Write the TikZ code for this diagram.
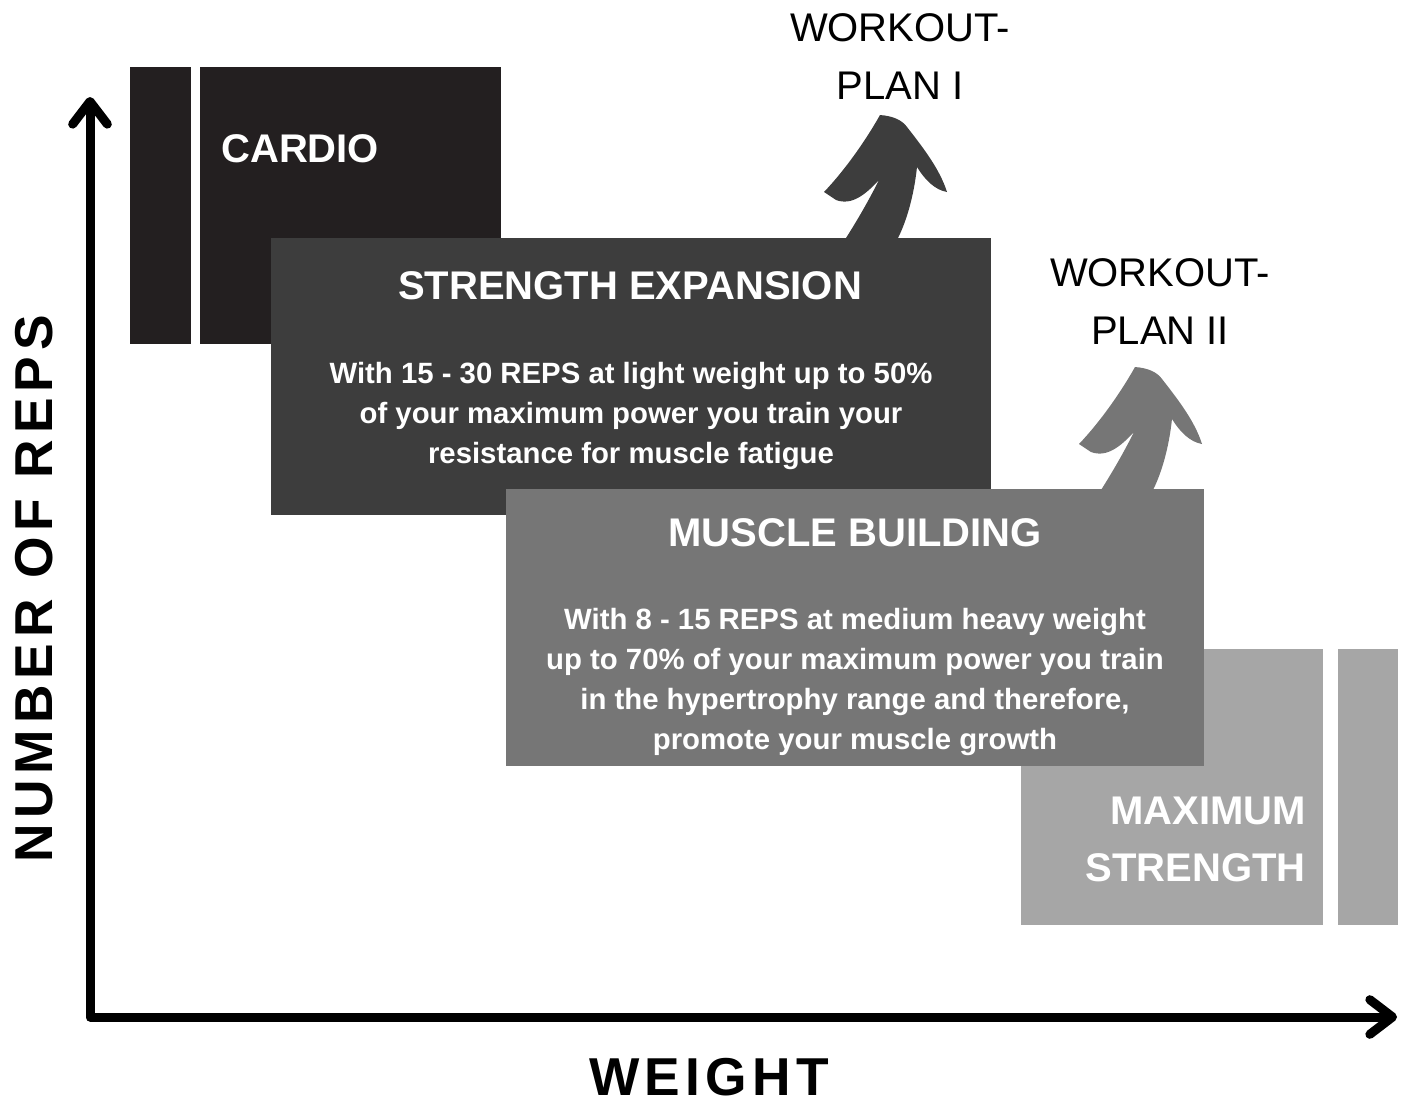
\documentclass[tikz,border=0pt]{standalone}
\usepackage{fontspec}
\setmainfont{Liberation Sans}
\usetikzlibrary{arrows.meta}
\definecolor{cardiogray}{HTML}{231F20}
\definecolor{strengthgray}{HTML}{3D3D3D}
\definecolor{musclegray}{HTML}{767676}
\definecolor{maxgray}{HTML}{A6A6A6}
\tikzset{
  boxtitle/.style={font=\bfseries\fontsize{30}{43}\selectfont, text=white, inner sep=0pt},
  boxtext/.style={font=\bfseries\fontsize{22}{30}\selectfont, text=white, align=center, inner sep=0pt},
  plantext/.style={font=\fontsize{30}{43.5}\selectfont, align=center, inner sep=0pt},
  axislabel/.style={font=\bfseries\fontsize{40}{48}\selectfont, inner sep=0pt},
  axisline/.style={line width=6.75pt, line cap=round, line join=round,
    >={Straight Barb[length=17pt,width=26pt,round]}}
}
\begin{document}
\begin{tikzpicture}[x=0.75pt,y=-0.75pt]
\useasboundingbox (0,0) rectangle (1404,1100);
% cardio
\fill [cardiogray] (130,67) rectangle (191,344);
\fill [cardiogray] (200,67) rectangle (501,344);
\node (cardio) [boxtitle,anchor=base west] at (221,162) {CARDIO};
% workout plan I
\fill [strengthgray] (846,245) -- (846,238)
  .. controls (860,216) and (871,196) .. (879,180)
  .. controls (866,194) and (852,206) .. (836,200) -- (824,192)
  .. controls (845,170) and (866,140) .. (880,115)
  .. controls (893,116) and (902,120) .. (907,127)
  .. controls (925,150) and (940,170) .. (947,192)
  .. controls (935,190) and (925,180) .. (917,167)
  .. controls (914,195) and (907,220) .. (898,238) -- (898,245) -- cycle;
\node (plan1) [plantext,anchor=south] at (900,100) {WORKOUT-\\PLAN I};
% strength expansion
\fill [strengthgray] (271,238) rectangle (991,515);
\node (strength) [boxtitle,anchor=base] at (630,299) {STRENGTH EXPANSION};
\node (strengthtxt) [boxtext] at (631,416) {With 15 - 30 REPS at light weight up to 50\%\\
  of your maximum power you train your\\resistance for muscle fatigue};
% workout plan II
\begin{scope}[shift={(255,252)}]
\fill [musclegray] (846,245) -- (846,238)
  .. controls (860,216) and (871,196) .. (879,180)
  .. controls (866,194) and (852,206) .. (836,200) -- (824,192)
  .. controls (845,170) and (866,140) .. (880,115)
  .. controls (893,116) and (902,120) .. (907,127)
  .. controls (925,150) and (940,170) .. (947,192)
  .. controls (935,190) and (925,180) .. (917,167)
  .. controls (914,195) and (907,220) .. (898,238) -- (898,245) -- cycle;
\end{scope}
\node (plan2) [plantext,anchor=south] at (1160,345) {WORKOUT-\\PLAN II};
% maximum strength
\fill [maxgray] (1021,649) rectangle (1323,925);
\fill [maxgray] (1338,649) rectangle (1398,925);
\node (maxstrength) [boxtitle,align=right,anchor=south east] at (1306,882) {MAXIMUM\\STRENGTH};
% muscle building
\fill [musclegray] (506,489) rectangle (1204,766);
\node (muscle) [boxtitle,anchor=base] at (855,546) {MUSCLE BUILDING};
\node (muscletxt) [boxtext] at (855,682) {With 8 - 15 REPS at medium heavy weight\\
  up to 70\% of your maximum power you train\\in the hypertrophy range and therefore,\\
  promote your muscle growth};
% axes
\coordinate (ytop) at (90,97);
\coordinate (origin) at (90,1017);
\coordinate (xend) at (1397,1017);
\draw [axisline,<->] (ytop) -- (origin) -- (xend);
\node (reps) [axislabel,rotate=90,anchor=base] at (52,589) {\addfontfeature{LetterSpace=11}NUMBER OF REPS};
\node (weight) [axislabel,anchor=base] at (709,1095) {\addfontfeature{LetterSpace=10}WEIGHT};
\end{tikzpicture}
\end{document}
